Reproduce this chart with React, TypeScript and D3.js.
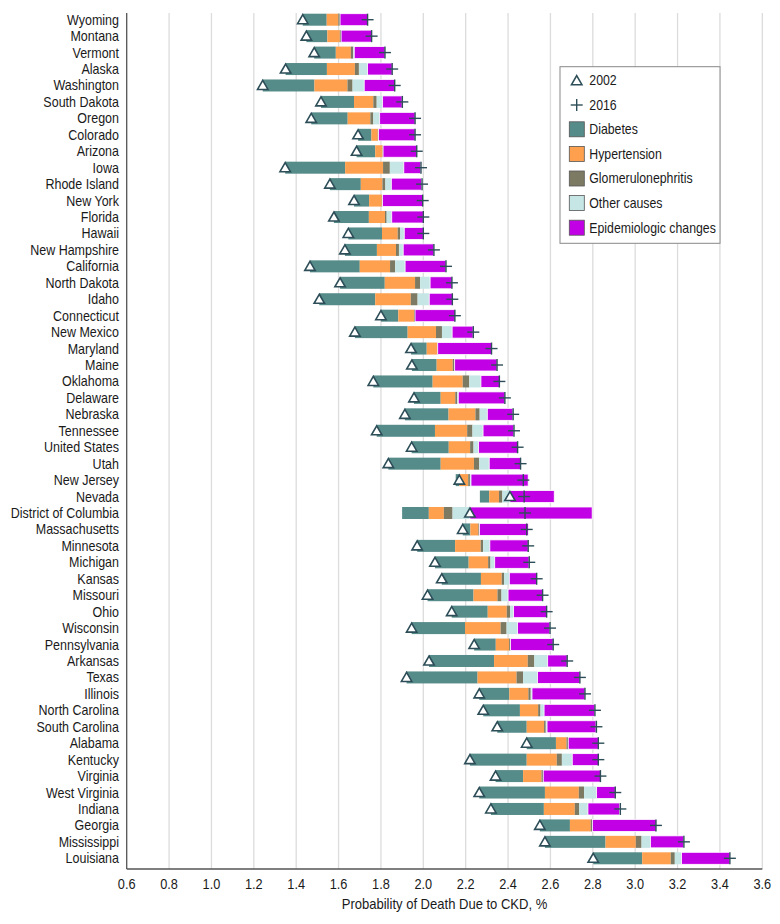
import * as d3 from 'd3'

// states, top to bottom
const states = [
  'Wyoming', 'Montana', 'Vermont', 'Alaska', 'Washington', 'South Dakota', 'Oregon', 'Colorado',
  'Arizona', 'Iowa', 'Rhode Island', 'New York', 'Florida', 'Hawaii', 'New Hampshire', 'California',
  'North Dakota', 'Idaho', 'Connecticut', 'New Mexico', 'Maryland', 'Maine', 'Oklahoma', 'Delaware',
  'Nebraska', 'Tennessee', 'United States', 'Utah', 'New Jersey', 'Nevada', 'District of Columbia',
  'Massachusetts', 'Minnesota', 'Michigan', 'Kansas', 'Missouri', 'Ohio', 'Wisconsin', 'Pennsylvania',
  'Arkansas', 'Texas', 'Illinois', 'North Carolina', 'South Carolina', 'Alabama', 'Kentucky',
  'Virginia', 'West Virginia', 'Indiana', 'Georgia', 'Mississippi', 'Louisiana',
]

// probability of death due to CKD, %
const y2002 = [
  1.431, 1.448, 1.485, 1.35, 1.242, 1.517, 1.471, 1.692, 1.685, 1.348, 1.559, 1.673, 1.578, 1.646,
  1.63, 1.465, 1.607, 1.509, 1.8, 1.677, 1.942, 1.946, 1.764, 1.956, 1.913, 1.78, 1.945, 1.835,
  2.17, 2.409, 2.22, 2.186, 1.971, 2.055, 2.087, 2.02, 2.134, 1.945, 2.24, 2.027, 1.921, 2.264,
  2.283, 2.349, 2.488, 2.22, 2.341, 2.264, 2.319, 2.55, 2.574, 2.802,
]
const y2016 = [
  1.737, 1.756, 1.819, 1.853, 1.865, 1.901, 1.961, 1.961, 1.969, 1.989, 1.994, 1.997, 2.0, 2.0,
  2.05, 2.107, 2.135, 2.137, 2.149, 2.236, 2.322, 2.348, 2.359, 2.385, 2.424, 2.428, 2.445, 2.459,
  2.472, 2.476, 2.48, 2.488, 2.495, 2.5, 2.535, 2.563, 2.582, 2.598, 2.613, 2.679, 2.739, 2.763,
  2.81, 2.817, 2.826, 2.826, 2.836, 2.906, 2.93, 3.098, 3.23, 3.447,
]

// contributions to the change 2002-2016
const diabetes = [
  0.113, 0.099, 0.102, 0.195, 0.244, 0.156, 0.172, 0.063, 0.088, 0.283, 0.146, 0.071, 0.165, 0.159,
  0.151, 0.235, 0.211, 0.264, 0.082, 0.249, 0.074, 0.117, 0.28, 0.126, 0.206, 0.275, 0.175, 0.247,
  -0.017, -0.044, -0.126, 0.036, 0.179, 0.159, 0.185, 0.217, 0.17, 0.252, 0.102, 0.307, 0.335, 0.142,
  0.173, 0.139, 0.138, 0.268, 0.13, 0.31, 0.25, 0.142, 0.286, 0.231,
]
const hypertension = [
  0.055, 0.059, 0.071, 0.132, 0.156, 0.091, 0.107, 0.03, 0.035, 0.179, 0.102, 0.06, 0.076, 0.074,
  0.09, 0.143, 0.143, 0.168, 0.074, 0.134, 0.05, 0.076, 0.142, 0.069, 0.127, 0.152, 0.101, 0.157,
  0.042, -0.046, -0.071, 0.038, 0.121, 0.092, 0.098, 0.113, 0.09, 0.168, 0.063, 0.159, 0.184, 0.09,
  0.086, 0.082, 0.05, 0.142, 0.087, 0.16, 0.146, 0.098, 0.143, 0.135,
]
const glomerulonephritis = [
  0.008, 0.006, 0.011, 0.019, 0.024, 0.016, 0.014, 0.003, 0.002, 0.032, 0.014, 0.003, 0.008, 0.011,
  0.014, 0.024, 0.024, 0.032, 0.005, 0.028, 0.002, 0.009, 0.031, 0.009, 0.02, 0.025, 0.016, 0.025,
  0.008, -0.016, -0.041, 0.005, 0.011, 0.011, 0.011, 0.019, 0.016, 0.028, 0.007, 0.031, 0.031, 0.011,
  0.011, 0.008, 0.008, 0.024, 0.008, 0.025, 0.02, 0.008, 0.027, 0.019,
]
const otherCauses = [
  0.0, 0.0, 0.005, 0.041, 0.055, 0.028, 0.03, 0.0, 0.0, 0.066, 0.028, 0.0, 0.024, 0.02,
  0.02, 0.047, 0.047, 0.055, 0.0, 0.048, 0.0, 0.0, 0.055, 0.005, 0.036, 0.05, 0.024, 0.047,
  0.005, -0.036, -0.082, 0.0, 0.032, 0.02, 0.025, 0.031, 0.016, 0.052, 0.0, 0.063, 0.068, 0.006,
  0.017, 0.006, 0.0, 0.049, 0.0, 0.059, 0.042, 0.0, 0.042, 0.032,
]
const epidemiologic = [
  0.131, 0.145, 0.145, 0.116, 0.145, 0.092, 0.167, 0.173, 0.159, 0.08, 0.143, 0.19, 0.149, 0.09,
  0.145, 0.193, 0.104, 0.109, 0.189, 0.099, 0.256, 0.2, 0.087, 0.22, 0.121, 0.145, 0.186, 0.148,
  0.27, 0.209, 0.577, 0.231, 0.181, 0.162, 0.129, 0.162, 0.158, 0.152, 0.201, 0.092, 0.2, 0.25,
  0.239, 0.231, 0.142, 0.124, 0.271, 0.088, 0.15, 0.301, 0.157, 0.228,
]

const causes = ['Diabetes', 'Hypertension', 'Glomerulonephritis', 'Other causes', 'Epidemiologic changes']
const colors = ['#558B88', '#FFA04F', '#7C7A63', '#C6E6E6', '#C200E6']
const series = [diabetes, hypertension, glomerulonephritis, otherCauses, epidemiologic]
const ticks = [0.6, 0.8, 1.0, 1.2, 1.4, 1.6, 1.8, 2.0, 2.2, 2.4, 2.6, 2.8, 3.0, 3.2, 3.4, 3.6]

const W = 780
const H = 924
const MARK = '#2D4E58'
const INK = '#1a1a1a'

// no condensed face installed: squeeze Liberation Sans a little
const NText = ({ x, y, size = 14.2, anchor = 'start', children }: any) => (
  <text
    transform={`translate(${x},${y}) scale(0.88,1)`}
    fontFamily="'Liberation Sans', Arial, sans-serif"
    fontSize={size}
    textAnchor={anchor}
    fill={INK}
    dy="0.35em"
  >
    {children}
  </text>
)

const Plus = ({ x }: any) => (
  <g transform={`translate(${x},0)`} stroke={MARK} strokeWidth={1.4}>
    <line x1={-6} x2={6} y1={0} y2={0} />
    <line x1={0} x2={0} y1={-6} y2={6} />
  </g>
)

const App = () => {
  const x = d3.scaleLinear().domain([0.6, 3.6]).range([126.7, 762.3])
  const y = d3.scalePoint().domain(states).range([19.7, 858.3])
  const top = 13
  const bottom = 869
  const barH = 12

  // negatives sit left of the 2002 value, positives stack right of it
  const rows = states.map((s, i) => {
    const vals = series.map((a) => a[i])
    const neg = d3.sum(vals.filter((v) => v < 0))
    let nx = y2002[i] + neg
    let px = y2002[i]
    const segs = vals.map((v, k) => {
      if (v < 0) {
        const seg = { k, x0: nx, x1: nx - v }
        nx -= v
        return seg
      }
      const seg = { k, x0: px, x1: px + v }
      px += v
      return seg
    })
    return { s, segs, i }
  })

  const tri = 'M0,-5 L5.2,4 L-5.2,4 Z'

  return (
    <svg width={W} height={H} style={{ position: 'absolute', left: 0, top: 0 }}>
      <rect width={W} height={H} fill="#fff" />
      <g>
        {ticks.slice(1).map((t) => (
          <line key={t} x1={x(t)} x2={x(t)} y1={top} y2={bottom} stroke="#dcdcdc" strokeWidth={1.3} />
        ))}
      </g>
      <g>
        {rows.map((r) => (
          <g key={r.s} transform={`translate(0,${y(r.s)})`}>
            {r.segs
              .filter((g) => g.x1 - g.x0 > 0)
              .map((g) => (
                <rect
                  key={g.k}
                  x={x(g.x0)}
                  y={-barH / 2}
                  width={x(g.x1) - x(g.x0)}
                  height={barH}
                  fill={colors[g.k]}
                  stroke={g.k === 4 ? '#fff' : 'none'}
                  strokeWidth={g.k === 4 ? 0.8 : 0}
                />
              ))}
            <path d={tri} transform={`translate(${x(y2002[r.i])},0)`} fill="#fff" stroke={MARK} strokeWidth={1.6} />
            <Plus x={x(y2016[r.i])} />
            <NText x={119} y={0} anchor="end">
              {r.s}
            </NText>
          </g>
        ))}
      </g>
      <line x1={x(0.6)} x2={x(0.6)} y1={top} y2={bottom} stroke="#555" strokeWidth={1.3} />
      <line x1={x(0.6)} x2={x(3.6)} y1={bottom} y2={bottom} stroke="#555" strokeWidth={1.3} />
      {ticks.map((t) => (
        <NText key={t} x={x(t)} y={884} size={14.5} anchor="middle">
          {d3.format('.1f')(t)}
        </NText>
      ))}
      <NText x={(x(0.6) + x(3.6)) / 2} y={904} size={14.8} anchor="middle">
        Probability of Death Due to CKD, %
      </NText>
      <g transform="translate(560,66.7)">
        <rect width={160} height={176.6} fill="#fff" stroke="#888" strokeWidth={1} />
        <path d={tri} transform="translate(16.7,14)" fill="#fff" stroke={MARK} strokeWidth={1.6} />
        <NText x={29.3} y={13.6} size={14}>2002</NText>
        <g transform="translate(0,38.3)">
          <Plus x={16.7} />
        </g>
        <NText x={29.3} y={38.3} size={14}>2016</NText>
        {causes.map((c, k) => (
          <g key={c} transform={`translate(0,${62.6 + k * 24.6})`}>
            <rect x={9.3} y={-7.5} width={15} height={15} fill={colors[k]} stroke="#555" strokeWidth={0.8} />
            <NText x={29.3} y={0} size={14}>{c}</NText>
          </g>
        ))}
      </g>
    </svg>
  )
}

export default App
